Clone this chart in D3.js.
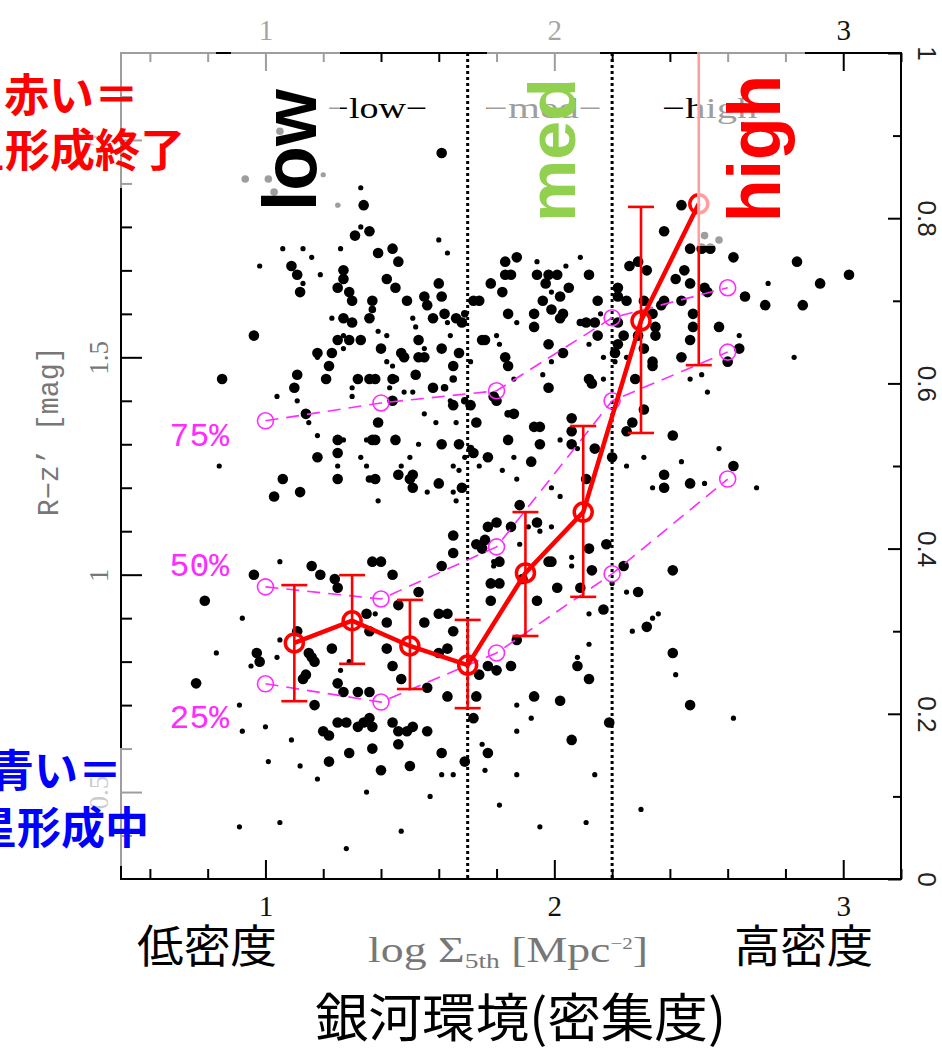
<!DOCTYPE html>
<html>
<head>
<meta charset="utf-8">
<script src="https://cdn.jsdelivr.net/npm/d3@7"></script>
<style>
  body { margin: 0; background: #fff; }
  svg { display: block; }
</style>
</head>
<body>
<div id="chart"></div>
<script>
// log Sigma_5th, R-z' colour, dot size class (1 small .. 3 large)
const lowEnvGalaxies = [
  [1.61,1.97,3],[1.33,1.89,1],[1.34,1.85,3],[1.25,1.85,1],[1.20,1.92,1],[0.93,1.91,2],[1.01,1.91,2],[1.03,1.88,2],[1.05,2.02,2],
  [1.33,1.80,1],[1.36,1.79,3],[1.31,1.78,3],[1.60,1.77,1],[1.06,1.75,1],[1.13,1.75,1],[1.26,1.75,1],[1.44,1.75,3],[1.39,1.74,3],[1.46,1.72,3],[1.63,1.74,1],
  [0.98,1.71,1],[1.16,1.73,1],[1.09,1.71,3],[1.11,1.69,3],[1.27,1.70,3],[1.27,1.68,3],[1.19,1.69,1],[1.13,1.67,1],[1.12,1.65,3],[1.25,1.66,3],
  [1.42,1.68,3],[1.45,1.66,3],[1.60,1.67,3],[1.29,1.65,3],[1.30,1.63,3],[1.49,1.63,3],[1.55,1.64,3],[1.61,1.64,3],[1.56,1.62,3],[1.62,1.60,3],
  [1.37,1.63,3],[1.37,1.61,2],[1.36,1.59,3],[1.23,1.59,1],[1.27,1.59,3],[1.30,1.58,3],[1.51,1.59,1],[1.52,1.57,1],[1.58,1.59,3],[1.63,1.58,1],
  [1.66,1.59,3],[1.68,1.58,3],[1.69,1.60,2],
  [0.96,1.55,3],[1.27,1.55,1],[1.25,1.54,3],[1.29,1.54,3],[1.33,1.54,3],[1.39,1.56,1],[1.42,1.55,1],[1.18,1.51,3],[1.18,1.50,1],[1.23,1.51,3],[1.27,1.52,1],
  [1.40,1.52,3],[1.47,1.51,3],[1.48,1.50,3],[1.53,1.54,3],[1.55,1.52,1],[1.53,1.50,3],[1.55,1.50,3],[1.61,1.52,3],[1.67,1.51,3],[1.64,1.55,1],[1.65,1.48,3],
  [1.42,1.49,1],[1.44,1.48,1],[1.22,1.48,3],[1.11,1.46,3],[1.10,1.43,3],[1.11,1.40,1],[1.21,1.45,3],[1.32,1.45,3],[1.36,1.45,3],[1.38,1.45,3],[1.44,1.45,3],[1.45,1.45,2],[1.52,1.46,3],
  [1.30,1.43,1],[1.43,1.43,1],[1.48,1.42,1],[1.51,1.42,1],[1.58,1.43,3],[1.62,1.43,2],[1.65,1.45,2],
  [1.04,1.41,1],[0.85,1.45,3],[1.30,1.41,1],[1.44,1.40,3],[1.64,1.40,1],[1.65,1.39,3],[1.69,1.40,2],
  [1.14,1.37,3],[1.15,1.35,1],[1.18,1.32,1],[1.25,1.31,3],[1.27,1.31,1],[1.25,1.28,3],[1.18,1.27,3],[1.33,1.27,1],[1.39,1.35,3],[1.38,1.31,3],[1.37,1.31,3],[1.35,1.31,1],[1.45,1.31,3],
  [1.53,1.30,1],[1.50,1.27,1],[1.55,1.37,1],[1.59,1.35,1],[1.66,1.35,1],[1.61,1.30,3],[1.67,1.30,3],[1.69,1.27,1],[1.65,1.25,1],
  [1.47,1.25,1],[1.46,1.23,3],[1.51,1.23,3],[1.50,1.22,3],[1.51,1.20,3],[1.56,1.19,1],[1.60,1.21,3],[1.65,1.19,1],[1.68,1.20,3],
  [1.38,1.22,3],[1.36,1.22,2],[1.35,1.25,1],[1.25,1.22,3],[1.25,1.25,1],[1.06,1.22,3],[1.03,1.18,3],[1.12,1.19,3],[0.84,1.25,1],[1.39,1.17,1],[1.66,1.17,1],
  [1.65,1.05,3],[1.65,1.09,3],[1.67,1.24,1],
  [0.96,1.00,3],[1.05,1.03,1],[1.16,1.02,3],[1.19,1.00,3],[1.24,0.99,3],[1.25,0.97,3],[1.37,1.03,3],[1.40,1.03,3],[1.44,1.00,3],[1.53,0.96,3],[1.61,1.02,3],
  [1.11,0.87,3],[1.05,0.85,1],[0.92,0.90,1],[0.97,0.82,3],[0.98,0.80,3],[0.95,0.79,1],[1.04,0.81,1],[1.15,0.82,3],[1.16,0.81,3],[1.17,0.80,3],[1.14,0.77,3],[1.13,0.76,3],
  [1.23,0.83,3],[1.26,0.78,1],[1.29,0.80,1],[1.36,0.87,3],[1.42,0.83,3],[1.38,0.91,1],[1.35,0.91,3],[1.42,0.89,3],[1.46,0.93,3],[1.55,0.89,3],[1.60,0.91,3],[1.63,0.91,3],[1.65,0.87,3],
  [1.60,0.82,3],[1.63,0.83,3],[1.44,0.79,3],[1.47,0.76,3],[1.27,0.73,3],[1.25,0.75,3],[1.32,0.73,3],[1.36,0.73,3],[1.56,0.74,3],[1.63,0.72,3],
  [1.17,0.70,3],[1.00,0.65,1],[0.92,0.64,1],[1.09,0.62,1],[1.20,0.64,3],[1.22,0.63,3],[1.25,0.66,3],[1.28,0.66,3],[1.32,0.65,3],[1.34,0.66,3],[1.36,0.67,3],[1.37,0.65,3],[1.37,0.60,3],[1.29,0.59,3],
  [1.44,0.66,3],[1.46,0.64,3],[1.49,0.64,3],[1.51,0.65,3],[1.56,0.64,3],[1.46,0.61,3],[1.61,0.59,3],
  [0.91,0.42,1],[1.05,0.43,1],[1.28,0.37,1],[1.47,0.41,1],[1.57,0.49,1],[1.65,0.54,1],[1.69,0.57,3],
  [1.01,0.57,1],[1.12,0.56,1],[1.18,0.53,1],[1.22,0.57,3],[1.40,0.55,3],[1.50,0.56,3],[1.61,0.54,1],[1.35,0.50,1],
  [0.79,0.94,3],[0.76,0.75,3],[0.83,0.82,1],[0.91,0.70,1]
];
const medEnvGalaxies = [
  [1.72,1.63,3],[1.74,1.63,3],[1.78,1.67,3],[1.83,1.72,3],[1.83,1.69,3],[1.82,1.65,3],[1.71,1.49,1],[1.76,1.54,3],[1.80,1.55,1],[1.81,1.53,1],[1.83,1.50,3],[1.84,1.48,3],[1.75,1.54,3],
  [1.71,1.39,3],[1.80,1.40,3],[1.84,1.37,2],[1.71,1.29,2],[1.73,1.35,3],[1.77,1.27,3],[1.84,1.31,3],[1.82,1.24,1],[1.74,1.25,1],
  [2.17,1.45,1],[2.13,1.44,3],[2.17,1.50,1],[2.12,1.53,1],[2.15,1.55,3],[2.14,1.58,3],[2.11,1.58,3],[2.09,1.58,2],[2.15,1.63,3],[2.16,1.60,1],[2.12,1.69,3],[2.09,1.73,1],
  [2.05,1.66,3],[2.02,1.64,3],[2.04,1.71,1],[2.01,1.69,3],[1.98,1.69,3],[1.97,1.67,3],[1.94,1.69,3],[1.94,1.72,1],[1.99,1.65,1],[1.96,1.63,3],[1.99,1.61,3],[2.03,1.60,3],
  [2.02,1.59,3],[1.93,1.60,3],[1.93,1.57,3],[1.87,1.58,1],[1.84,1.60,3],[1.85,1.69,3],[1.87,1.73,3],
  [1.98,1.53,3],[2.03,1.51,3],[1.99,1.49,1],[1.96,1.46,1],[1.98,1.43,3],[1.86,1.45,1],[1.79,1.41,3],[1.86,1.37,3],[1.93,1.34,3],[1.95,1.34,3],[2.06,1.36,3],[2.06,1.33,3],
  [1.95,1.30,3],[2.02,1.31,1],[2.08,1.29,1],[2.14,1.29,3],[1.92,1.26,3],[1.86,1.27,1],[1.87,1.22,1],[1.99,1.20,1],[2.11,1.22,3],[2.12,1.45,3],
  [2.17,0.92,3],[2.12,0.91,1],[2.09,0.97,3],[2.13,1.01,3],[2.12,1.06,3],[2.18,1.07,3],[2.06,1.04,1],[2.06,1.02,1],[2.01,0.97,3],[1.99,1.03,3],[2.08,0.81,1],[2.12,0.84,1],
  [2.08,0.79,3],[2.12,0.76,3],[1.98,1.03,3],[1.95,1.10,1],[1.94,1.12,3],[1.88,1.16,3],[1.85,1.11,3],[1.80,1.12,3],[1.77,1.11,3],[1.76,1.08,3],[1.73,1.07,3],[1.75,1.06,3],
  [1.81,1.03,3],[1.88,1.07,1],[1.79,1.03,1],[1.78,0.94,3],[1.72,1.28,3],[1.91,1.11,1],[1.99,1.11,1],[2.02,1.18,1],[2.06,1.30,3],
  [1.79,1.02,1],[1.78,0.98,3],[1.81,0.98,3],[1.89,0.99,3],[1.94,0.94,3],[1.74,0.77,3],[1.77,0.79,3],[1.80,0.78,3],[1.85,0.79,3],[1.87,0.85,3],[1.87,0.70,1],[1.92,0.67,1],
  [1.93,0.72,3],[1.73,0.72,3],[1.72,0.67,3],[1.75,0.61,1],[1.77,0.59,3],[1.87,0.64,1],
  [1.76,0.55,1],[1.81,0.47,1],[1.87,0.54,1],[1.95,0.42,1],[2.02,0.71,3],[2.06,0.62,3],[2.11,0.43,1],[2.14,0.54,1],[2.19,0.66,3]
];
const highEnvGalaxies = [
  [2.44,1.85,3],[2.38,1.79,3],[2.47,1.75,3],[2.51,1.75,3],[2.54,1.75,3],[2.62,1.73,3],[2.84,1.72,3],[2.92,1.67,3],[3.02,1.69,3],[2.74,1.67,1],[2.86,1.62,3],[2.83,1.50,1],
  [2.73,1.62,3],[2.66,1.64,3],[2.64,1.52,3],[2.60,1.49,3],[2.57,1.57,3],[2.64,1.55,1],[2.53,1.42,1],[2.51,1.46,1],[2.47,1.45,1],[2.47,1.54,3],[2.48,1.57,3],[2.48,1.60,3],
  [2.44,1.63,3],[2.47,1.67,3],[2.52,1.66,3],[2.53,1.65,3],[2.45,1.70,3],[2.42,1.68,3],[2.38,1.63,3],[2.37,1.62,3],[2.44,1.50,3],[2.41,1.32,3],[2.57,1.29,1],[2.62,1.25,3],
  [2.70,1.20,1],[2.52,1.21,1],[2.47,1.21,3],[2.44,1.26,1],[2.38,1.23,3],[2.38,1.20,3],[2.34,1.20,1],[2.31,1.27,1],[2.25,1.25,1],[2.25,1.33,3],[2.27,1.35,3],[2.31,1.38,3],
  [2.28,1.45,3],[2.34,1.48,3],[2.34,1.49,3],[2.35,1.55,3],[2.31,1.52,3],[2.25,1.50,1],[2.24,1.55,3],[2.22,1.53,3],[2.21,1.51,3],[2.21,1.49,1],[2.22,1.58,3],[2.25,1.63,3],
  [2.22,1.64,3],[2.22,1.66,3],[2.26,1.71,3],[2.29,1.72,3],[2.32,1.70,3],[2.31,1.63,3],[2.34,1.60,3],[2.35,1.57,3],[2.29,1.55,3],[2.20,1.27,3],[2.52,1.78,2],[2.57,1.77,2],
  [2.41,1.01,3],[2.29,0.96,3],[2.32,0.88,3],[2.36,0.91,1],[2.34,0.90,1],[2.27,0.87,1],[2.41,0.82,3],[2.42,0.77,1],[2.24,1.02,3],[2.25,0.96,1],[2.20,0.98,1],
  [2.30,0.46,1],[2.47,0.70,3],[2.62,0.67,1]
];

// median R-z' per density bin, with error bars
const binLogSigma = [1.1, 1.3, 1.5, 1.7, 1.9, 2.1, 2.3, 2.5];
const binMedian   = [0.843, 0.894, 0.836, 0.792, 1.004, 1.144, 1.584, 1.853];
const binErrLow   = [0.709, 0.795, 0.737, 0.693, 0.859, 0.949, 1.326, 1.482];
const binErrHigh  = [0.976, 0.999, 0.942, 0.896, 1.144, 1.342, 1.846, 2.35];

// percentile curves
const pctLogSigma = [1.0, 1.4, 1.8, 2.2, 2.6];
const pct75 = [1.354, 1.395, 1.423, 1.591, 1.660];
const pct50 = [0.972, 0.944, 1.064, 1.400, 1.512];
const pct25 = [0.749, 0.707, 0.820, 1.002, 1.220];
const pctNames = ['75%', '50%', '25%'];
const pctNameY = [1.296, 0.997, 0.647];

const envBounds = [1.7, 2.2];
const envLabels = ['\u2212low\u2212', '\u2212med\u2212', '\u2212high\u2212'];
const envLabelPos = [1.388, 1.962, 2.578];

const xTicks = [1, 2, 3];
const yTicks = [0.5, 1, 1.5, 2];
const fracTicks = [0, 0.2, 0.4, 0.6, 0.8, 1];

const W = 942, H = 1053;
const frame = { left: 121, right: 901, top: 53, bottom: 879 };

const svg = d3.select('#chart').append('svg')
  .attr('width', W)
  .attr('height', H)
  .style('background', '#fff');

const x = d3.scaleLinear().domain([0.5, 3.2]).range([frame.left, frame.right]);
const y = d3.scaleLinear().domain([0.3, 2.2]).range([frame.bottom, frame.top]);
const yFrac = d3.scaleLinear().domain([0, 1]).range([frame.bottom, frame.top]);
const dotR = d3.scaleOrdinal().domain([1, 2, 3]).range([2.6, 3.8, 5.3]);

svg.append('clipPath').attr('id', 'plotClip')
  .append('rect')
  .attr('x', frame.left).attr('y', frame.top)
  .attr('width', frame.right - frame.left).attr('height', frame.bottom - frame.top);

// galaxies
const allGalaxies = lowEnvGalaxies.concat(medEnvGalaxies, highEnvGalaxies);
svg.append('g').selectAll('circle')
  .data(allGalaxies)
  .join('circle')
  .attr('cx', d => x(d[0]))
  .attr('cy', d => y(d[1]))
  .attr('r', d => dotR(d[2]))
  .attr('fill', '#000');

// environment boundaries
svg.append('g').selectAll('line')
  .data(envBounds)
  .join('line')
  .attr('x1', d => x(d)).attr('x2', d => x(d))
  .attr('y1', frame.top).attr('y2', frame.bottom)
  .attr('stroke', '#000')
  .attr('stroke-width', 3)
  .attr('stroke-dasharray', '3,3');

const envLabelLen = [100, 117, 118];
svg.append('g').selectAll('text')
  .data(envLabels)
  .join('text')
  .attr('x', (d, i) => x(envLabelPos[i]))
  .attr('y', 118)
  .attr('text-anchor', 'middle')
  .attr('font-family', 'Liberation Serif, serif')
  .attr('font-size', 30)
  .attr('textLength', (d, i) => envLabelLen[i])
  .attr('lengthAdjust', 'spacingAndGlyphs')
  .attr('fill', '#000')
  .text(d => d);

// percentile curves
const pctSeries = [pct75, pct50, pct25];
const pctLine = d3.line().x(d => x(d[0])).y(d => y(d[1]));
const pctColor = '#ff2bff';
pctSeries.forEach((vals, k) => {
  const pts = pctLogSigma.map((v, i) => [v, vals[i]]);
  svg.append('path')
    .datum(pts)
    .attr('d', pctLine)
    .attr('fill', 'none')
    .attr('stroke', pctColor)
    .attr('stroke-width', 1.6)
    .attr('stroke-dasharray', '13,8');
  svg.append('g').selectAll('circle')
    .data(pts)
    .join('circle')
    .attr('cx', d => x(d[0]))
    .attr('cy', d => y(d[1]))
    .attr('r', 8)
    .attr('fill', 'none')
    .attr('stroke', pctColor)
    .attr('stroke-width', 1.6);
  svg.append('text')
    .attr('x', 229)
    .attr('y', y(pctNameY[k]))
    .attr('text-anchor', 'end')
    .attr('font-family', 'Liberation Mono, monospace')
    .attr('font-size', 33)
    .attr('fill', pctColor)
    .text(pctNames[k]);
});

// median with error bars
const red = '#ff0000';
const bins = binLogSigma.map((v, i) => ({ x: v, m: binMedian[i], lo: binErrLow[i], hi: binErrHigh[i] }));
const errG = svg.append('g').attr('clip-path', 'url(#plotClip)');
errG.selectAll('line.bar')
  .data(bins)
  .join('line')
  .attr('x1', d => x(d.x)).attr('x2', d => x(d.x))
  .attr('y1', d => y(d.lo)).attr('y2', d => y(d.hi))
  .attr('stroke', red).attr('stroke-width', 2.6);
['lo', 'hi'].forEach(k => {
  errG.selectAll('line.cap-' + k)
    .data(bins.filter(d => d[k] < 2.2))
    .join('line')
    .attr('x1', d => x(d.x) - 13).attr('x2', d => x(d.x) + 13)
    .attr('y1', d => y(d[k])).attr('y2', d => y(d[k]))
    .attr('stroke', red).attr('stroke-width', 2.6);
});
svg.append('path')
  .datum(bins)
  .attr('d', d3.line().x(d => x(d.x)).y(d => y(d.m)))
  .attr('fill', 'none')
  .attr('stroke', red)
  .attr('stroke-width', 4.5);
svg.append('g').selectAll('circle')
  .data(bins)
  .join('circle')
  .attr('cx', d => x(d.x)).attr('cy', d => y(d.m))
  .attr('r', 9)
  .attr('fill', 'none')
  .attr('stroke', red)
  .attr('stroke-width', 3.5);

// frame + ticks
function tickAxis(axis, g, vals, size) {
  g.call(axis.tickValues(vals).tickSizeInner(size).tickSizeOuter(0));
  g.select('.domain').remove();
  g.selectAll('.tick line').attr('stroke', '#000').attr('stroke-width', 2);
}
const minorX = d3.range(6, 33, 2).map(v => v / 10).filter(v => v % 1 !== 0);
const minorY = d3.range(4, 22).map(v => v / 10).filter(v => (v * 10) % 5 !== 0);
const minorF = d3.range(1, 10, 2).map(v => v / 10);

const gBot = svg.append('g').attr('transform', `translate(0,${frame.bottom})`);
tickAxis(d3.axisBottom(x).tickFormat(''), gBot.append('g'), minorX, -10);
const gBotMaj = gBot.append('g');
tickAxis(d3.axisBottom(x).tickFormat(d3.format('d')).tickPadding(16), gBotMaj, xTicks, -19);
gBotMaj.selectAll('text')
  .attr('font-family', 'Liberation Serif, serif')
  .attr('font-size', 29)
  .attr('fill', '#111');

const gTop = svg.append('g').attr('transform', `translate(0,${frame.top})`);
tickAxis(d3.axisTop(x).tickFormat(''), gTop.append('g'), minorX, -9);
const gTopMaj = gTop.append('g');
tickAxis(d3.axisTop(x).tickFormat(d3.format('d')).tickPadding(13), gTopMaj, xTicks, -18);
gTopMaj.selectAll('text')
  .attr('font-family', 'Liberation Serif, serif')
  .attr('font-size', 29)
  .attr('fill', '#111');

const gLeft = svg.append('g').attr('transform', `translate(${frame.left},0)`);
tickAxis(d3.axisLeft(y).tickFormat(''), gLeft.append('g'), minorY, -11);
const gLeftMaj = gLeft.append('g');
tickAxis(d3.axisLeft(y).tickFormat(d => d), gLeftMaj, yTicks, -21);
gLeftMaj.selectAll('text')
  .attr('x', 0).attr('dy', 0)
  .attr('text-anchor', 'middle')
  .attr('transform', 'translate(-13,0) rotate(-90)')
  .attr('font-family', 'Liberation Serif, serif')
  .attr('font-size', 27)
  .attr('fill', '#777');

const gRight = svg.append('g').attr('transform', `translate(${frame.right},0)`);
tickAxis(d3.axisRight(yFrac).tickFormat(''), gRight.append('g'), minorF, -8);
const gRightMaj = gRight.append('g');
tickAxis(d3.axisRight(yFrac).tickFormat(d => d), gRightMaj, fracTicks, -13);
gRightMaj.selectAll('text')
  .attr('x', 0).attr('dy', 0)
  .attr('text-anchor', 'middle')
  .attr('transform', 'translate(17,0) rotate(90)')
  .attr('font-family', 'Liberation Sans Narrow, Liberation Sans, sans-serif')
  .attr('font-size', 26)
  .attr('fill', '#222');

svg.append('rect')
  .attr('x', frame.left).attr('y', frame.top)
  .attr('width', frame.right - frame.left).attr('height', frame.bottom - frame.top)
  .attr('fill', 'none')
  .attr('stroke', '#000')
  .attr('stroke-width', 2);

// axis titles
svg.append('text')
  .attr('transform', `translate(58,${y(1.33)}) rotate(-90)`)
  .attr('text-anchor', 'middle')
  .attr('font-family', 'Liberation Mono, monospace')
  .attr('font-size', 29)
  .attr('textLength', 170)
  .attr('lengthAdjust', 'spacingAndGlyphs')
  .attr('fill', '#777')
  .text('R\u2212z\u2019 [mag]');

const xTitle = svg.append('text')
  .attr('x', 368).attr('y', 962)
  .attr('font-family', 'Liberation Serif, serif')
  .attr('font-size', 35)
  .attr('textLength', 280)
  .attr('lengthAdjust', 'spacingAndGlyphs')
  .attr('fill', '#777');
xTitle.append('tspan').text('log \u03a3');
xTitle.append('tspan').attr('dy', 6).attr('font-size', 21).text('5th');
xTitle.append('tspan').attr('dy', -6).text(' [Mpc');
xTitle.append('tspan').attr('dy', -13).attr('font-size', 16).text('\u22122');
xTitle.append('tspan').attr('dy', 13).text(']');

// translucent note panels pasted over the figure
const veils = [
  { x0: 0, x1: 216, y0: 46, y1: 188 },
  { x0: 231, x1: 340, y0: 0, y1: 215 },
  { x0: 487, x1: 600, y0: 0, y1: 232 },
  { x0: 697, x1: 805, y0: 0, y1: 246 },
  { x0: 0, x1: 152, y0: 748, y1: 866 }
];
svg.append('g').selectAll('rect')
  .data(veils)
  .join('rect')
  .attr('x', d => d.x0).attr('y', d => d.y0)
  .attr('width', d => d.x1 - d.x0).attr('height', d => d.y1 - d.y0)
  .attr('fill', '#fff')
  .attr('fill-opacity', 0.62);

// big environment words
const bigWords = [
  { t: 'low', fill: '#000', bx: 316, y0: 211, len: 122, size: 76 },
  { t: 'med', fill: '#92d050', bx: 575, y0: 222, len: 144, size: 66 },
  { t: 'high', fill: '#ff0000', bx: 780, y0: 222, len: 147, size: 74 }
];
svg.append('g').selectAll('text')
  .data(bigWords)
  .join('text')
  .attr('transform', d => `translate(${d.bx},${d.y0}) rotate(-90)`)
  .attr('font-family', 'Liberation Sans, Arial, sans-serif')
  .attr('font-weight', 'bold')
  .attr('font-size', d => d.size)
  .attr('textLength', d => d.len)
  .attr('lengthAdjust', 'spacingAndGlyphs')
  .attr('fill', d => d.fill)
  .text(d => d.t);

// Japanese notes
const jp = 'Noto Sans CJK JP, sans-serif';
const notes = [
  { t: '赤い＝', x: 4, y: 112, fill: '#ff0000', size: 45, w: 'bold' },
  { t: '星形成終了', x: -40, y: 167, fill: '#ff0000', size: 45, w: 'bold' },
  { t: '青い＝', x: -10, y: 787, fill: '#0000ff', size: 44, w: 'bold' },
  { t: '星形成中', x: -27, y: 844, fill: '#0000ff', size: 44, w: 'bold' },
  { t: '低密度', x: 137, y: 963, fill: '#000', size: 45, w: 'normal', len: 140 },
  { t: '高密度', x: 734, y: 963, fill: '#000', size: 45, w: 'normal', len: 139 },
  { t: '銀河環境(密集度)', x: 315, y: 1037, fill: '#000', size: 52, w: 'normal', len: 411 }
];
notes.forEach(n => {
  const t = svg.append('text')
    .attr('x', n.x).attr('y', n.y)
    .attr('font-family', jp)
    .attr('font-weight', n.w)
    .attr('font-size', n.size)
    .attr('fill', n.fill)
    .text(n.t);
  if (n.len) t.attr('textLength', n.len).attr('lengthAdjust', 'spacingAndGlyphs');
});
</script>
</body>
</html>
